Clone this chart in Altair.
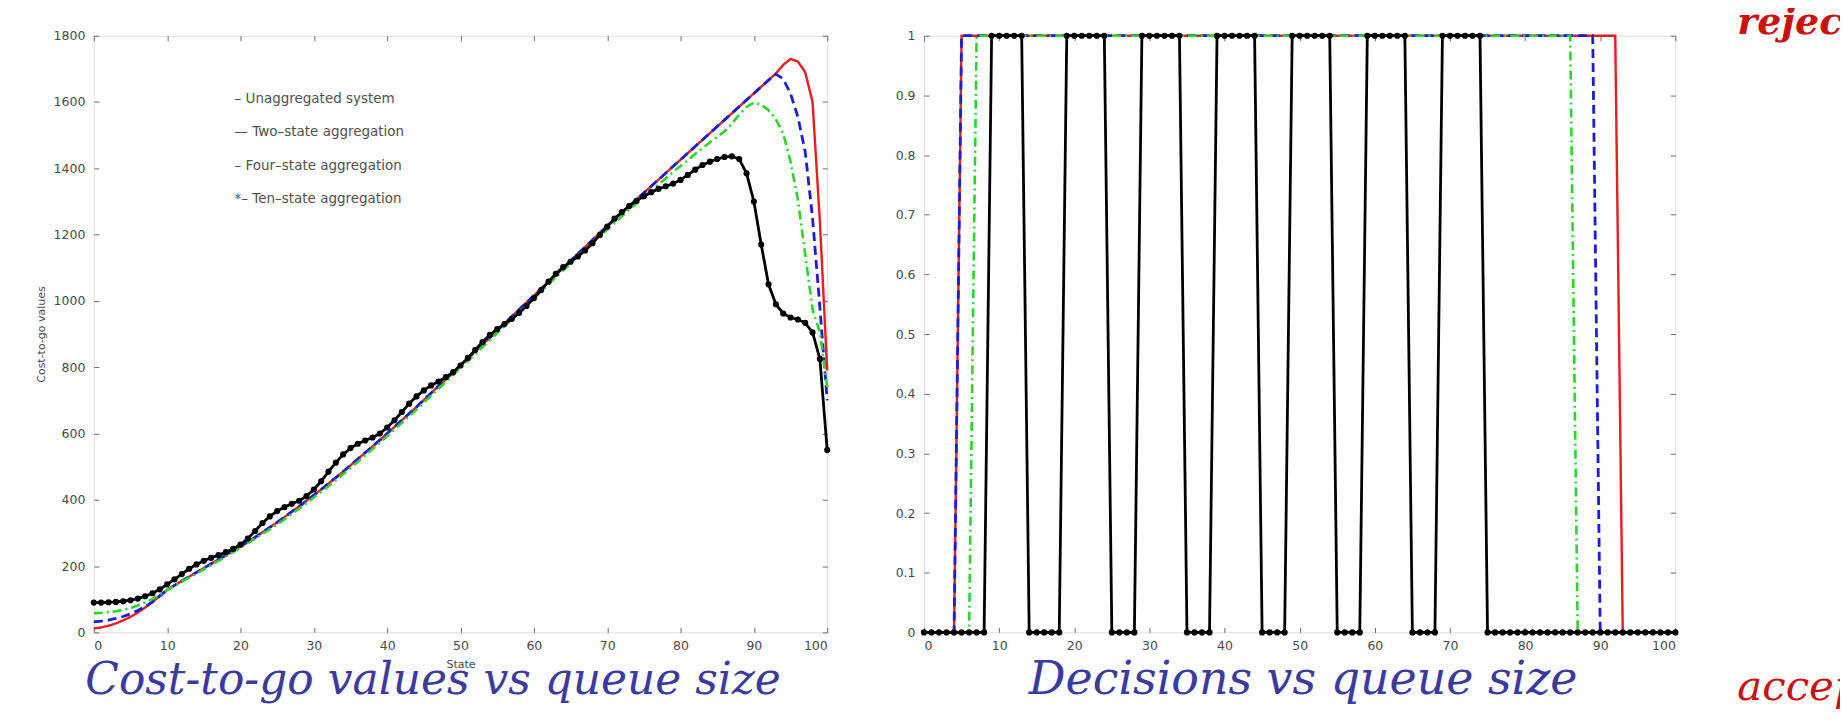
import altair as alt
import pandas as pd

# ---------------- data ----------------
states = list(range(101))

cost_unaggregated = [
    12, 15, 20, 27, 36, 47, 60, 75, 92, 110,
    128, 142, 155, 168, 181, 194, 207, 220, 233, 246,
    259, 273, 287, 302, 317, 332, 348, 364, 380, 397,
    414, 431, 449, 467, 485, 504, 523, 542, 561, 580,
    600, 620, 640, 660, 680, 701, 722, 743, 764, 785,
    806, 827, 848, 869, 890, 911, 932, 953, 974, 995,
    1016, 1037, 1058, 1079, 1100, 1121, 1142, 1163, 1184, 1205,
    1226, 1246, 1266, 1286, 1306, 1326, 1346, 1366, 1386, 1406,
    1426, 1446, 1466, 1486, 1506, 1526, 1546, 1566, 1586, 1606,
    1626, 1646, 1666, 1686, 1712, 1730, 1722, 1690, 1600, 1240,
    790,
]
cost_two_state = [
    32, 34, 37, 42, 48, 56, 66, 78, 92, 110,
    128, 142, 155, 168, 181, 194, 207, 220, 233, 246,
    259, 273, 287, 302, 317, 332, 348, 364, 380, 397,
    414, 431, 449, 467, 485, 504, 523, 542, 561, 580,
    600, 620, 640, 660, 680, 701, 722, 743, 764, 785,
    806, 827, 848, 869, 890, 911, 932, 953, 974, 995,
    1016, 1037, 1058, 1079, 1100, 1121, 1142, 1163, 1184, 1205,
    1226, 1246, 1266, 1286, 1306, 1326, 1346, 1366, 1386, 1406,
    1426, 1446, 1466, 1486, 1506, 1526, 1546, 1566, 1586, 1606,
    1626, 1646, 1666, 1684, 1670, 1625, 1555, 1450, 1250, 980,
    700,
]
cost_four_state = [
    58, 59, 61, 64, 68, 74, 81, 90, 101, 114,
    128, 141, 153, 165, 177, 190, 203, 216, 229, 242,
    255, 269, 283, 297, 311, 326, 341, 357, 373, 390,
    407, 424, 441, 459, 477, 496, 515, 534, 553, 572,
    592, 612, 632, 652, 672, 693, 714, 735, 756, 777,
    798, 819, 840, 861, 882, 903, 924, 945, 966, 987,
    1008, 1029, 1050, 1071, 1092, 1113, 1134, 1155, 1175, 1195,
    1215, 1235, 1255, 1275, 1294, 1313, 1332, 1351, 1370, 1389,
    1407, 1425, 1443, 1461, 1478, 1495, 1512, 1535, 1562, 1585,
    1598, 1592, 1575, 1548, 1505, 1420, 1305, 1140, 975, 905,
    740,
]
cost_ten_state = [
    90, 90, 91, 92, 94, 97, 102, 109, 118, 130,
    145, 160, 176, 192, 205, 216, 225, 233, 242, 252,
    265, 283, 306, 330, 350, 366, 378, 388, 397, 411,
    431, 456, 485, 512, 537, 556, 569, 579, 588, 600,
    618, 640, 665, 690, 712, 730, 745, 757, 770, 785,
    805, 828, 852, 876, 898, 915, 930, 946, 964, 985,
    1008, 1033, 1058, 1082, 1102, 1118, 1134, 1152, 1174, 1199,
    1224, 1248, 1268, 1286, 1302, 1316, 1328, 1338, 1346, 1354,
    1365, 1380, 1396, 1410, 1420, 1428, 1434, 1436, 1428, 1385,
    1300, 1170, 1050, 990, 962, 950, 944, 934, 905, 825,
    550,
]

dec_unaggregated = [
    0, 0, 0, 0, 0, 1, 1, 1, 1, 1,
    1, 1, 1, 1, 1, 1, 1, 1, 1, 1,
    1, 1, 1, 1, 1, 1, 1, 1, 1, 1,
    1, 1, 1, 1, 1, 1, 1, 1, 1, 1,
    1, 1, 1, 1, 1, 1, 1, 1, 1, 1,
    1, 1, 1, 1, 1, 1, 1, 1, 1, 1,
    1, 1, 1, 1, 1, 1, 1, 1, 1, 1,
    1, 1, 1, 1, 1, 1, 1, 1, 1, 1,
    1, 1, 1, 1, 1, 1, 1, 1, 1, 1,
    1, 1, 1, 0, 0, 0, 0, 0, 0, 0,
    0,
]
dec_two_state = [
    0, 0, 0, 0, 0, 1, 1, 1, 1, 1,
    1, 1, 1, 1, 1, 1, 1, 1, 1, 1,
    1, 1, 1, 1, 1, 1, 1, 1, 1, 1,
    1, 1, 1, 1, 1, 1, 1, 1, 1, 1,
    1, 1, 1, 1, 1, 1, 1, 1, 1, 1,
    1, 1, 1, 1, 1, 1, 1, 1, 1, 1,
    1, 1, 1, 1, 1, 1, 1, 1, 1, 1,
    1, 1, 1, 1, 1, 1, 1, 1, 1, 1,
    1, 1, 1, 1, 1, 1, 1, 1, 1, 1,
    0, 0, 0, 0, 0, 0, 0, 0, 0, 0,
    0,
]
dec_four_state = [
    0, 0, 0, 0, 0, 0, 0, 1, 1, 1,
    1, 1, 1, 1, 1, 1, 1, 1, 1, 1,
    1, 1, 1, 1, 1, 1, 1, 1, 1, 1,
    1, 1, 1, 1, 1, 1, 1, 1, 1, 1,
    1, 1, 1, 1, 1, 1, 1, 1, 1, 1,
    1, 1, 1, 1, 1, 1, 1, 1, 1, 1,
    1, 1, 1, 1, 1, 1, 1, 1, 1, 1,
    1, 1, 1, 1, 1, 1, 1, 1, 1, 1,
    1, 1, 1, 1, 1, 1, 1, 0, 0, 0,
    0, 0, 0, 0, 0, 0, 0, 0, 0, 0,
    0,
]
dec_ten_state = [
    0, 0, 0, 0, 0, 0, 0, 0, 0, 1,
    1, 1, 1, 1, 0, 0, 0, 0, 0, 1,
    1, 1, 1, 1, 1, 0, 0, 0, 0, 1,
    1, 1, 1, 1, 1, 0, 0, 0, 0, 1,
    1, 1, 1, 1, 1, 0, 0, 0, 0, 1,
    1, 1, 1, 1, 1, 0, 0, 0, 0, 1,
    1, 1, 1, 1, 1, 0, 0, 0, 0, 1,
    1, 1, 1, 1, 1, 0, 0, 0, 0, 0,
    0, 0, 0, 0, 0, 0, 0, 0, 0, 0,
    0, 0, 0, 0, 0, 0, 0, 0, 0, 0,
    0,
]

series_names = ["Unaggregated system", "Two-state aggregation",
                "Four-state aggregation", "Ten-state aggregation"]
legend_lines = ["\u2013  Unaggregated system", "\u2014  Two\u2013state aggregation",
                "\u2013  Four\u2013state aggregation", "*\u2013  Ten\u2013state aggregation"]
x_ticks = [0, 10, 20, 30, 40, 50, 60, 70, 80, 90, 100]
cost_ticks = [0, 200, 400, 600, 800, 1000, 1200, 1400, 1600, 1800]
dec_ticks = [0, 0.1, 0.2, 0.3, 0.4, 0.5, 0.6, 0.7, 0.8, 0.9, 1]
captions = ["Cost-to-go values vs queue size", "Decisions vs queue size"]
side_words = ["reject", "accept"]
x_title = "State"
y_title = "Cost-to-go values"

# ---------------- styling ----------------
W_L, W_R, H = 735, 753, 598
COLORS = ["#ec1c1c", "#1c1ce0", "#28d828", "#000000"]
DASHES = [[1, 0], [9, 5], [9, 4, 2, 4], [1, 0]]
WIDTHS = [2.4, 2.8, 2.6, 2.8]
TICK_COLOR = "#6a6a6a"
LABEL_COLOR = "#4a4a4a"
SANS = "DejaVu Sans"


def label_axis(orient, values, title, fmt, pad):
    kw = dict(values=values, orient=orient, ticks=False, domain=False, grid=False,
              labelFont=SANS, labelFontSize=12.5, labelColor=LABEL_COLOR,
              labelPadding=pad, format=fmt)
    if title:
        kw.update(title=title, titleFont=SANS, titleFontSize=11,
                  titleFontWeight="normal", titleColor=LABEL_COLOR, titlePadding=7)
    else:
        kw.update(title=None)
    return alt.Axis(**kw)


def tick_axis(orient, values, offset):
    return alt.Axis(values=values, orient=orient, offset=offset, labels=False,
                    domain=False, grid=False, ticks=True, tickSize=5,
                    tickColor=TICK_COLOR, tickWidth=1, title=None)


def panel(df, width, ydomain, yticks, yfmt, with_titles):
    xs = alt.Scale(domain=[0, 100], nice=False, zero=False)
    ys = alt.Scale(domain=ydomain, nice=False, zero=False)
    x_axes = [
        label_axis("bottom", x_ticks, x_title if with_titles else None, "d", 7),
        tick_axis("top", x_ticks, -H),      # inward ticks on bottom edge
        tick_axis("bottom", x_ticks, -H),   # inward ticks on top edge
        None,
    ]
    y_axes = [
        label_axis("left", yticks, y_title if with_titles else None, yfmt, 9),
        tick_axis("right", yticks, -width),  # inward ticks on left edge
        tick_axis("left", yticks, -width),   # inward ticks on right edge
        None,
    ]
    layers = []
    for i, name in enumerate(series_names):
        base = alt.Chart(df).transform_filter(alt.datum.series == name)
        enc = dict(
            x=alt.X("state:Q", scale=xs, axis=x_axes[i]),
            y=alt.Y("value:Q", scale=ys, axis=y_axes[i]),
        )
        if i == 3:
            line = base.mark_line(color=COLORS[i], strokeWidth=WIDTHS[i],
                                  point=alt.OverlayMarkDef(filled=True, size=38,
                                                           color="black", opacity=1))
        else:
            line = base.mark_line(color=COLORS[i], strokeWidth=WIDTHS[i],
                                  strokeDash=DASHES[i])
        layers.append(line.encode(**enc))
    return layers


cost_df = pd.DataFrame({
    "state": states * 4,
    "value": cost_unaggregated + cost_two_state + cost_four_state + cost_ten_state,
    "series": sum([[n] * len(states) for n in series_names], []),
})
dec_df = pd.DataFrame({
    "state": states * 4,
    "value": dec_unaggregated + dec_two_state + dec_four_state + dec_ten_state,
    "series": sum([[n] * len(states) for n in series_names], []),
})


def text_layer(txt, x, y, **mk):
    return alt.Chart(pd.DataFrame({"t": [txt]})).mark_text(**mk).encode(
        text="t:N", x=alt.value(x), y=alt.value(y))


CAP_STYLE = dict(font="DejaVu Serif", fontStyle="italic",
                 color="#3a3aa0", align="center", baseline="alphabetic")

left_layers = panel(cost_df, W_L, [0, 1800], cost_ticks, "d", True)
left_layers.append(text_layer("\n".join(legend_lines), 141, 56, font=SANS,
                              fontSize=13.5, color="#505050", align="left",
                              baseline="top", lineBreak="\n", lineHeight=33.7))
left_layers.append(text_layer(captions[0], 340, 660, fontSize=44, **CAP_STYLE))
left = alt.layer(*left_layers).resolve_axis(x="independent", y="independent") \
    .properties(width=W_L, height=H)

right_layers = panel(dec_df, W_R, [0, 1], dec_ticks, "~g", False)
right_layers.append(text_layer(captions[1], 380, 660, fontSize=46, **CAP_STYLE))
right_layers.append(text_layer(side_words[0], 815, -2, font="DejaVu Serif",
                               fontStyle="italic", fontWeight="bold", fontSize=38,
                               color="#cc1010", align="left", baseline="alphabetic"))
right_layers.append(text_layer(side_words[1], 815, 666, font="DejaVu Serif",
                               fontStyle="italic", fontSize=42,
                               color="#cc1010", align="left", baseline="alphabetic"))
right = alt.layer(*right_layers).resolve_axis(x="independent", y="independent") \
    .properties(width=W_R, height=H)

# negative right padding trims the svg at the window edge, so the side words
# are cut off there as in the reference instead of widening the page
chart = alt.hconcat(left, right, spacing=97, bounds="flush").properties(
    padding={"left": 26, "top": -6, "right": -39, "bottom": 0}
).configure_view(stroke="#7a7a7a", strokeWidth=1.3).configure(background="white")

chart.save("out.html", embed_options={"renderer": "svg", "actions": False})
